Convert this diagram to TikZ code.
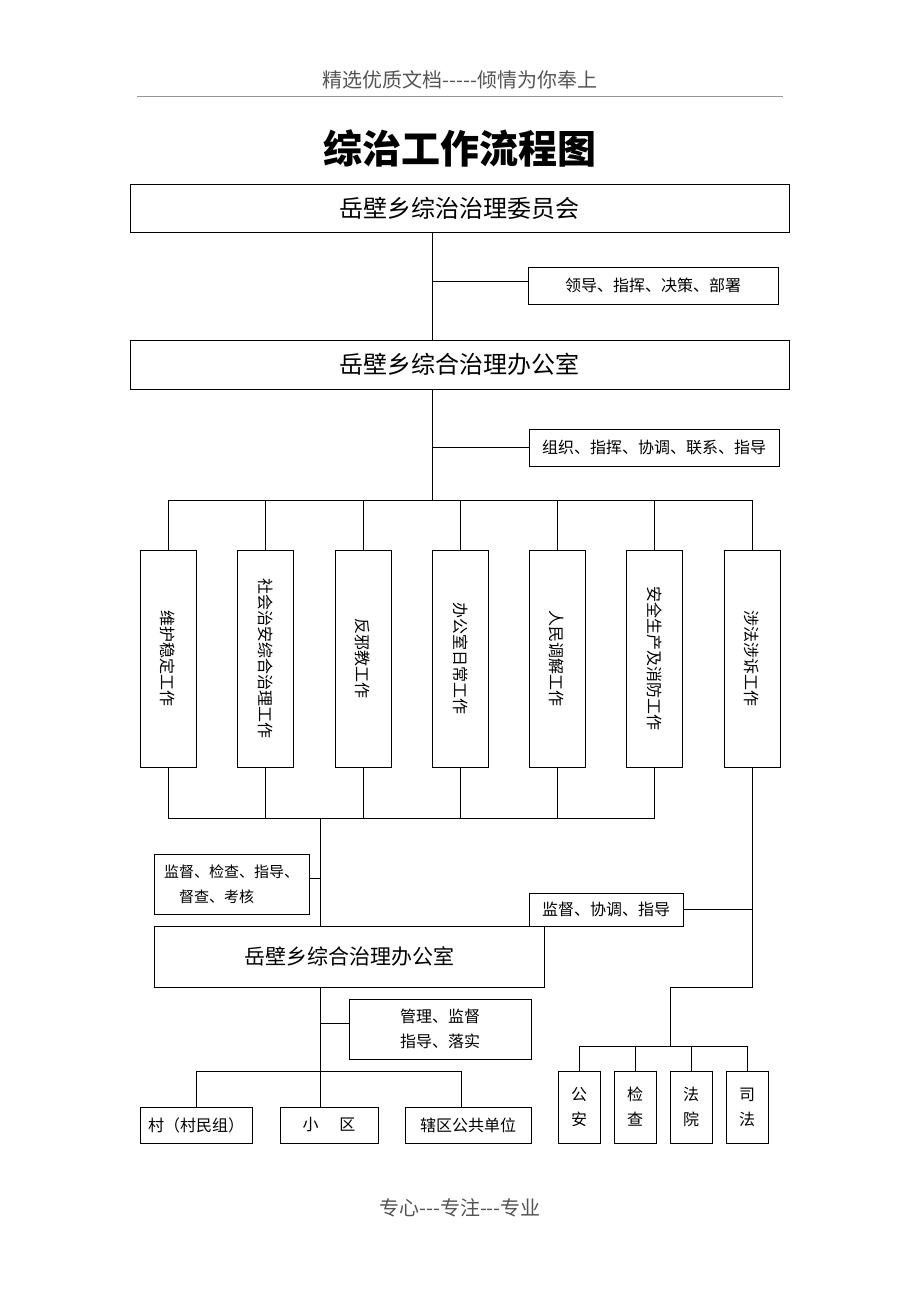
\documentclass[tikz,border=0pt]{standalone}
\usepackage{fontspec}
\setmainfont{Noto Sans CJK SC}
\usepackage{graphicx}
\definecolor{headgray}{RGB}{85,85,85}
\definecolor{rulegray}{RGB}{150,150,150}
\begin{document}
\begin{tikzpicture}[x=1pt,y=-1pt,
    box/.style={draw,line width=1pt,inner sep=0pt,align=center,font=\fontsize{16}{25}\selectfont},
    bigbox/.style={box,font=\fontsize{24}{28}\selectfont},
    vbox/.style={box,minimum width=56pt,minimum height=217pt},
    sbox/.style={box,minimum width=42pt,minimum height=72pt},
    ln/.style={line width=1pt}]
    \useasboundingbox[fill=white] (0,0) rectangle (920,1302);

    % header and title
    \node[font=\fontsize{20}{24}\selectfont,text=headgray] (head) at (460,80) {精选优质文档-\kern0pt-\kern0pt-\kern0pt-\kern0pt-倾情为你奉上};
    \coordinate (ruleL) at (137,96);
    \coordinate (ruleR) at (783,96);
    \draw[rulegray,line width=0.8pt] (ruleL) -- (ruleR);
    \node[font=\fontsize{39}{44}\selectfont\bfseries] (title) at (460,148) {综治工作流程图};

    % committee and office
    \node[bigbox,minimum width=659pt,minimum height=48pt] (cmte) at (459.5,208) {岳壁乡综治治理委员会};
    \node[box,minimum width=250pt,minimum height=37pt] (lead) at (653,285.5) {领导、指挥、决策、部署};
    \node[bigbox,minimum width=659pt,minimum height=49pt] (office) at (459.5,364.5) {岳壁乡综合治理办公室};
    \node[box,minimum width=250pt,minimum height=37pt] (organ) at (654,447.5) {组织、指挥、协调、联系、指导};

    % seven work boxes
    \node[vbox] (w1) at (168,658.5) {\rotatebox{-90}{维护稳定工作}};
    \node[vbox] (w2) at (265.5,658.5) {\rotatebox{-90}{社会治安综合治理工作}};
    \node[vbox] (w3) at (363,658.5) {\rotatebox{-90}{反邪教工作}};
    \node[vbox] (w4) at (460.5,658.5) {\rotatebox{-90}{办公室日常工作}};
    \node[vbox] (w5) at (557,658.5) {\rotatebox{-90}{人民调解工作}};
    \node[vbox] (w6) at (654.5,658.5) {\rotatebox{-90}{安全生产及消防工作}};
    \node[vbox] (w7) at (752,658.5) {\rotatebox{-90}{涉法涉诉工作}};

    % upper links
    \coordinate (j1) at (432,281);
    \draw[ln] (j1 |- cmte.south) -- (j1 |- office.north);
    \draw[ln] (j1) -- (j1 -| lead.west);
    \coordinate (j2) at (432,447);
    \coordinate (topbus) at (432,500);
    \draw[ln] (j2 |- office.south) -- (topbus);
    \draw[ln] (j2) -- (j2 -| organ.west);
    \draw[ln] (w1.north |- topbus) -- (w7.north |- topbus);
    \foreach \i in {1,...,7}
        \draw[ln] (w\i.north |- topbus) -- (w\i.north);

    % township office
    \coordinate (lowbus) at (320,818);
    \foreach \i in {1,...,6}
        \draw[ln] (w\i.south) -- (w\i.south |- lowbus);
    \draw[ln] (w1.south |- lowbus) -- (w6.south |- lowbus);
    \node[box,minimum width=155pt,minimum height=60pt,align=left,font=\fontsize{15}{25}\selectfont] (check) at (231.5,884) {监督、检查、指导、\\\hspace{1em}督查、考核};
    \node[box,minimum width=390pt,minimum height=61pt,font=\fontsize{21}{25}\selectfont] (town) at (349,956.5) {岳壁乡综合治理办公室};
    \coordinate (j3) at (320,878);
    \draw[ln] (lowbus) -- (j3 |- town.north);
    \draw[ln] (j3) -- (j3 -| check.east);

    % legal branch
    \node[box,minimum width=154pt,minimum height=33pt] (coord) at (606,909.5) {监督、协调、指导};
    \draw[ln] (coord.east) -- (coord.east -| w7.south);
    \coordinate (j4) at (670,987);
    \coordinate (rbus) at (670,1046);
    \draw[ln] (w7.south) |- (j4) -- (rbus);
    \node[sbox] (ga) at (579,1107) {公\\安};
    \node[sbox] (jc) at (635,1107) {检\\查};
    \node[sbox] (fy) at (691,1107) {法\\院};
    \node[sbox] (sf) at (747,1107) {司\\法};
    \draw[ln] (ga.north |- rbus) -- (sf.north |- rbus);
    \foreach \n in {ga,jc,fy,sf}
        \draw[ln] (\n.north |- rbus) -- (\n.north);

    % grassroots units
    \node[box,minimum width=182pt,minimum height=60pt] (mgmt) at (440,1029) {管理、监督\\指导、落实};
    \node[box,minimum width=112pt,minimum height=36pt] (cun) at (196,1125) {村（村民组）};
    \node[box,minimum width=98pt,minimum height=36pt] (xq) at (329,1125) {小\hspace{1.3em}区};
    \node[box,minimum width=126pt,minimum height=36pt] (unit) at (468,1125) {辖区公共单位};
    \coordinate (j5) at (320,1023);
    \coordinate (bbus) at (320,1071);
    \draw[ln] (j5 |- town.south) -- (j5 |- xq.north);
    \draw[ln] (j5) -- (j5 -| mgmt.west);
    \draw[ln] (cun.north |- bbus) -- ([xshift=-7pt]unit.north |- bbus);
    \draw[ln] (cun.north |- bbus) -- (cun.north);
    \draw[ln] ([xshift=-7pt]unit.north |- bbus) -- ([xshift=-7pt]unit.north);

    % footer
    \node[font=\fontsize{20}{24}\selectfont,text=headgray] (foot) at (460,1208) {专心-\kern0pt-\kern0pt-专注-\kern0pt-\kern0pt-专业};
\end{tikzpicture}
\end{document}
